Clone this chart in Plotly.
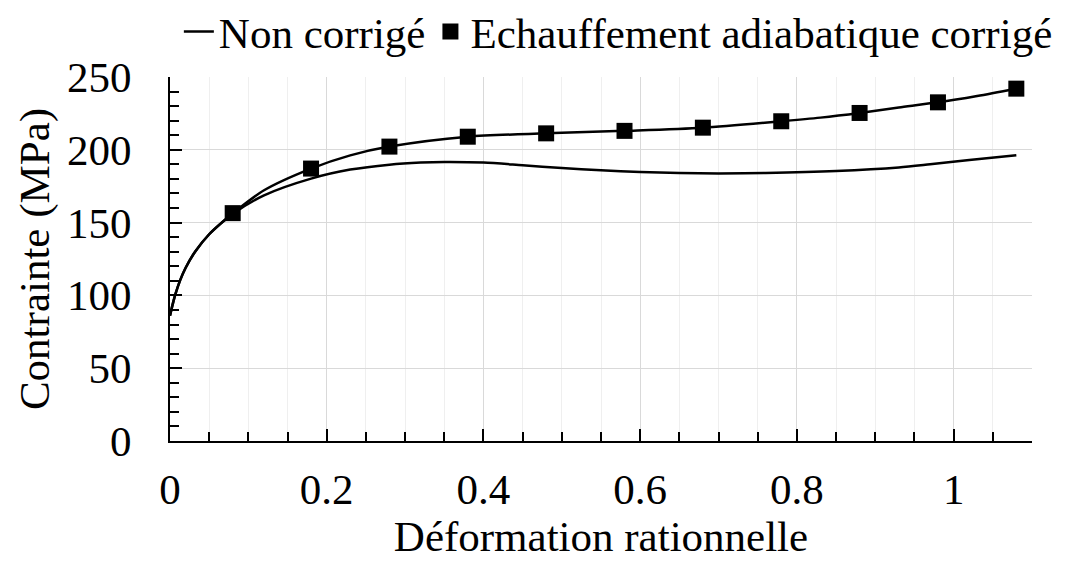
import plotly.graph_objects as go

# Non corrigé (line only)
strain_nc = [0, 0.003, 0.007, 0.013, 0.02, 0.032, 0.05, 0.065, 0.08, 0.12, 0.18, 0.23, 0.28, 0.32,
             0.35, 0.40, 0.45, 0.50, 0.55, 0.60, 0.65, 0.70, 0.76, 0.85, 0.93, 0.97, 1.02, 1.08]
stress_nc = [86, 93, 101, 110.5, 119, 130, 142, 149.5, 156, 168.7, 180.2, 186.4, 189.8, 191.2,
             191.6, 191.2, 189.4, 187.5, 185.9, 184.8, 184.1, 183.8, 184.1, 185.4, 187.8, 190, 193, 196.2]

# Echauffement adiabatique corrigé (line)
strain_c = [0, 0.003, 0.007, 0.013, 0.02, 0.032, 0.05, 0.065, 0.08, 0.12, 0.18, 0.23, 0.28,
            0.38, 0.48, 0.58, 0.68, 0.78, 0.83, 0.88, 0.93, 0.98, 1.03, 1.08]
stress_c = [86, 93, 101, 110.5, 119, 130, 142, 149.5, 156.3, 172.2, 187.1, 196.2, 202.2,
            209, 211.3, 213, 215.2, 219.6, 222.1, 225.3, 229, 232.6, 237, 242]

# Echauffement adiabatique corrigé (markers)
strain_m = [0.08, 0.18, 0.28, 0.38, 0.48, 0.58, 0.68, 0.78, 0.88, 0.98, 1.08]
stress_m = [156.5, 187.1, 202.2, 209, 211.3, 213, 215.2, 219.6, 225.3, 232.6, 242]

FONT = "Liberation Serif, Times New Roman, serif"

fig = go.Figure()
fig.add_trace(go.Scatter(x=strain_nc, y=stress_nc, mode="lines", name="Non corrigé",
                         line=dict(color="black", width=2.5, shape="spline", smoothing=0.8)))
fig.add_trace(go.Scatter(x=strain_c, y=stress_c, mode="lines", showlegend=False,
                         line=dict(color="black", width=2.5, shape="spline", smoothing=0.8)))
fig.add_trace(go.Scatter(x=strain_m, y=stress_m, mode="markers",
                         name="Echauffement adiabatique corrigé",
                         marker=dict(symbol="square", size=16, color="black")))

# page body adds an 8px offset, so the figure is sized 1057x554
fig.update_layout(
    width=1057, height=554,
    margin=dict(l=162, r=33, t=69, b=121, autoexpand=False),
    paper_bgcolor="white", plot_bgcolor="white",
    font=dict(family=FONT, size=43, color="black"),
    legend=dict(orientation="h", x=1.03, xanchor="right", y=1.125, yanchor="middle",
                font=dict(size=43), itemwidth=30, tracegroupgap=0,
                bgcolor="rgba(0,0,0,0)"),
)

fig.update_xaxes(
    range=[0, 1.1], dtick=0.2, tick0=0, automargin=False,
    showline=True, linecolor="black", linewidth=2,
    ticks="inside", ticklen=12, tickwidth=2, tickcolor="black",
    showgrid=True, gridcolor="#d9d9d9", gridwidth=1, zeroline=False,
    ticklabelstandoff=9,
    minor=dict(dtick=0.05, tick0=0, ticks="inside", ticklen=9, tickwidth=2,
               tickcolor="black", showgrid=True, gridcolor="#efefef", gridwidth=1),
    title=dict(text="Déformation rationnelle", font=dict(size=43), standoff=9),
)
fig.update_yaxes(
    range=[0, 250], dtick=50, tick0=0, automargin=False,
    showline=True, linecolor="black", linewidth=2,
    ticks="inside", ticklen=12, tickwidth=2, tickcolor="black",
    showgrid=True, gridcolor="#d9d9d9", gridwidth=1, zeroline=False,
    ticklabelstandoff=28,
    minor=dict(dtick=10, tick0=0, ticks="inside", ticklen=9, tickwidth=2,
               tickcolor="black", showgrid=False),
    title=dict(text="Contrainte (MPa)", font=dict(size=43), standoff=4),
)

fig.write_html("out.html")
